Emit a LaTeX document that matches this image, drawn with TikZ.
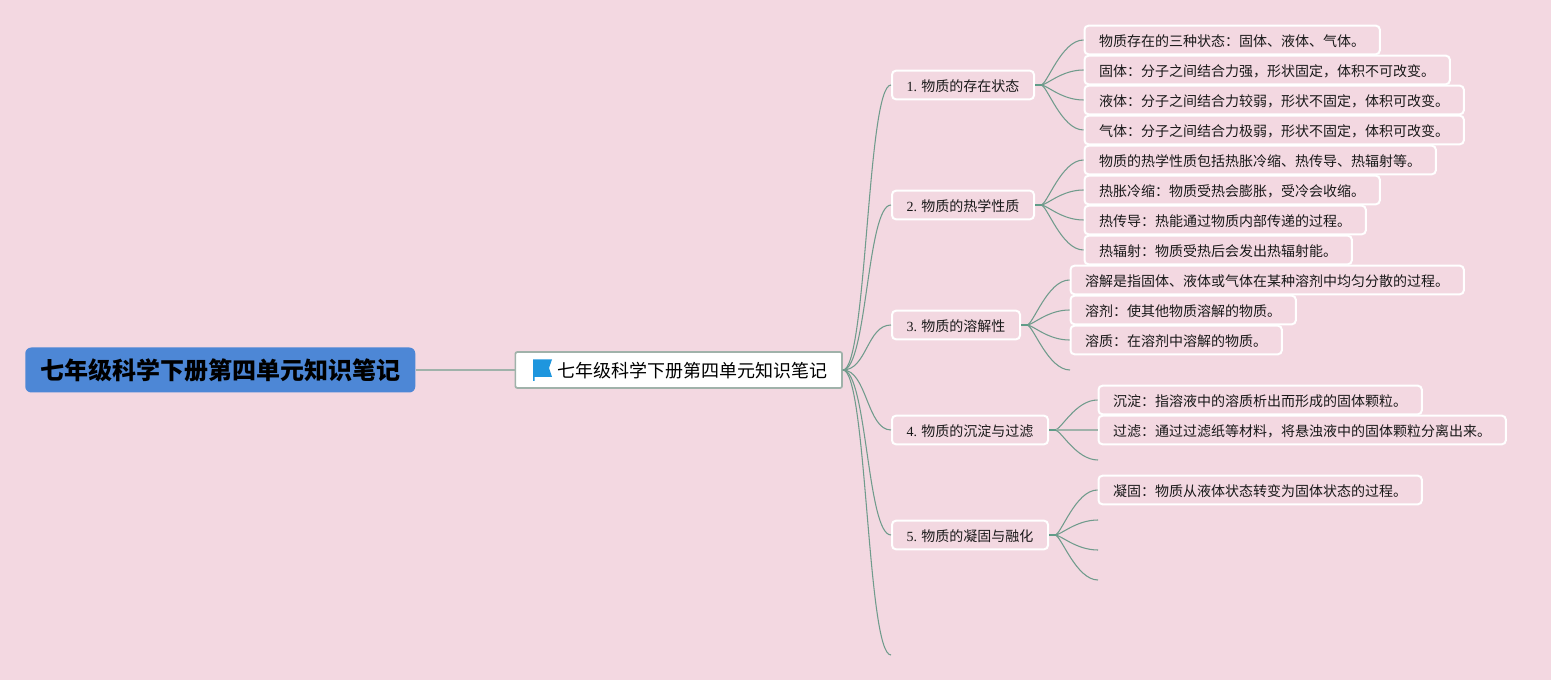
\documentclass[tikz,border=0pt]{standalone}
\usepackage{fontspec}
\setmainfont{Noto Sans CJK SC}
\newfontfamily\latinf{Liberation Serif}
\definecolor{bgpink}{RGB}{243,216,225}
\definecolor{rootblue}{RGB}{77,135,214}
\definecolor{linegreen}{RGB}{112,155,140}
\definecolor{stubgreen}{RGB}{96,156,136}
\definecolor{trunkgrey}{RGB}{160,178,170}
\definecolor{flagblue}{RGB}{30,150,222}
\newcommand{\stub}[1]{\draw[line width=1.5pt,stubgreen] (#1.east) -- ++(7,0);}
\newcommand{\conn}[3]{\draw[linkline] (#1.east) .. controls +(#3,0) and +(-#3,0) .. (#2);}
\newcommand{\subconn}[2]{\draw[linkline] ([xshift=4.5pt]#1.east) .. controls +(6,0) and +(-22,0) .. (#2);}
\tikzset{
  x=0.75pt,y=-0.75pt,
  linkline/.style={line width=0.8pt,linegreen},
  rootbox/.style={draw=none,fill=rootblue,rounded corners=4.5pt,minimum height=33.75pt,minimum width=292.5pt,inner sep=0pt,anchor=west,font=\fontsize{18pt}{20pt}\bfseries,text=black,text height=15pt,text depth=0pt},
  centrebox/.style={draw=trunkgrey,line width=1.3pt,fill=white,rounded corners=1.5pt,minimum height=27pt,minimum width=245pt,inner sep=0pt,anchor=west,font=\fontsize{13.5pt}{16pt}\selectfont,text=black,text height=11.9pt,text depth=0pt},
  branchbox/.style={draw=white,line width=1.5pt,fill=bgpink,rounded corners=3pt,minimum height=21.5pt,inner sep=0pt,anchor=west,font=\fontsize{10.5pt}{12pt}\selectfont,text=black!90,text height=9.4pt,text depth=0pt},
  leafbox/.style={branchbox}
}
\begin{document}
\begin{tikzpicture}
\useasboundingbox (0,0) rectangle (1551,680);
\fill[bgpink] (0,0) rectangle (1551,680);

\node[rootbox] (root) at (25,370) {\hspace*{1pt}七年级科学下册第四单元知识笔记};
\node[centrebox] (centre) at (514.5,370) {\hspace*{21pt}七年级科学下册第四单元知识笔记};
\draw[line width=1.1pt,trunkgrey] (root.east) -- (centre.west);
\fill[flagblue] (533,359.5) -- (552,359.5) -- (549,368) -- (552,377) -- (534.5,377) -- (534.5,381) -- (533,381) -- cycle;

\node[branchbox,minimum width=106.5pt] (b1) at (891,85) {{\latinf 1.} 物质的存在状态};
\node[branchbox,minimum width=106.5pt] (b2) at (891,205) {{\latinf 2.} 物质的热学性质};
\node[branchbox,minimum width=96pt] (b3) at (891,325) {{\latinf 3.} 物质的溶解性};
\node[branchbox,minimum width=117pt] (b4) at (891,430) {{\latinf 4.} 物质的沉淀与过滤};
\node[branchbox,minimum width=117pt] (b5) at (891,535) {{\latinf 5.} 物质的凝固与融化};

\node[leafbox,minimum width=221.5pt] (l1) at (1083.5,40) {物质存在的三种状态：固体、液体、气体。};
\node[leafbox,minimum width=274pt] (l2) at (1083.5,70) {固体：分子之间结合力强，形状固定，体积不可改变。};
\node[leafbox,minimum width=284.5pt] (l3) at (1083.5,100) {液体：分子之间结合力较弱，形状不固定，体积可改变。};
\node[leafbox,minimum width=284.5pt] (l4) at (1083.5,130) {气体：分子之间结合力极弱，形状不固定，体积可改变。};
\node[leafbox,minimum width=263.5pt] (l5) at (1083.5,160) {物质的热学性质包括热胀冷缩、热传导、热辐射等。};
\node[leafbox,minimum width=221.5pt] (l6) at (1083.5,190) {热胀冷缩：物质受热会膨胀，受冷会收缩。};
\node[leafbox,minimum width=211pt] (l7) at (1083.5,220) {热传导：热能通过物质内部传递的过程。};
\node[leafbox,minimum width=200.5pt] (l8) at (1083.5,250) {热辐射：物质受热后会发出热辐射能。};
\node[leafbox,minimum width=295pt] (l9) at (1069.5,280) {溶解是指固体、液体或气体在某种溶剂中均匀分散的过程。};
\node[leafbox,minimum width=169pt] (l10) at (1069.5,310) {溶剂：使其他物质溶解的物质。};
\node[leafbox,minimum width=158.5pt] (l11) at (1069.5,340) {溶质：在溶剂中溶解的物质。};
\node[leafbox,minimum width=242.5pt] (l12) at (1097.5,400) {沉淀：指溶液中的溶质析出而形成的固体颗粒。};
\node[leafbox,minimum width=305.5pt] (l13) at (1097.5,430) {过滤：通过过滤纸等材料，将悬浊液中的固体颗粒分离出来。};
\node[leafbox,minimum width=242.5pt] (l14) at (1097.5,490) {凝固：物质从液体状态转变为固体状态的过程。};

\coordinate (e1) at (891,655);
\coordinate (e3) at (1070,370);
\coordinate (e4) at (1098,460);
\coordinate (e5a) at (1098,520);
\coordinate (e5b) at (1098,550);
\coordinate (e5c) at (1098,580);

\foreach \t in {b1,b2,b3,b4,b5}{\conn{centre}{\t.west}{24}}
\conn{centre}{e1}{24}

\foreach \t in {l1,l2,l3,l4}{\subconn{b1}{\t.west}}
\foreach \t in {l5,l6,l7,l8}{\subconn{b2}{\t.west}}
\foreach \t in {l9,l10,l11}{\subconn{b3}{\t.west}}
\subconn{b3}{e3}
\subconn{b4}{l12.west}
\draw[line width=1.3pt,trunkgrey] (b4.east) -- (l13.west);
\subconn{b4}{e4}
\subconn{b5}{l14.west}
\foreach \t in {e5a,e5b,e5c}{\subconn{b5}{\t}}
\foreach \t in {b1,b2,b3,b4,b5}{\stub{\t}}
\end{tikzpicture}
\end{document}
